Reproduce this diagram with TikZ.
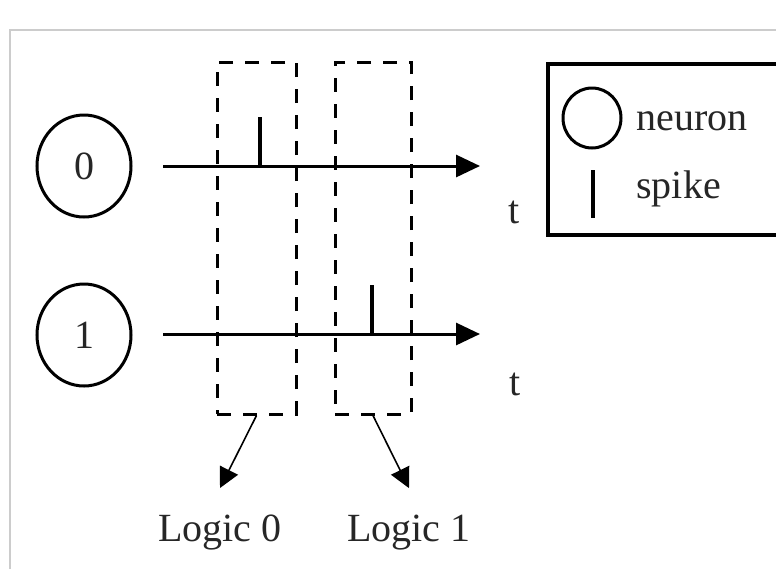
\documentclass[tikz,border=0pt]{standalone}
\usepackage{fontspec}
\setmainfont{Liberation Serif}
\usetikzlibrary{arrows.meta,shapes.geometric}
\tikzset{neuron/.style = {draw, line width=1.5pt, ellipse, minimum width=47pt, minimum height=51pt, inner sep=0pt},
         window/.style = {draw, line width=1.5pt, dash pattern=on 7pt off 6pt, rectangle, inner sep=0pt},
         axis/.style = {line width=1.5pt, -{Triangle[length=12pt,width=11pt]}},
         spikeline/.style = {line width=2pt},
         pointer/.style = {line width=0.8pt, -{Triangle[length=10pt,width=10pt]}},
         txt/.style = {font=\fontsize{20pt}{24pt}\selectfont, text=black!85, inner sep=0pt}}

\begin{document}
\begin{tikzpicture}[x=0.5pt,y=-0.5pt]
        \useasboundingbox (0,0) rectangle (776,569);
        \clip (0,0) rectangle (776,569);
        \draw[line width=1pt, black!20] (10,569) -- (10,30) -- (776,30);

        \node[neuron, txt] (n0) at (84,166) {0};
        \node[neuron, txt] (n1) at (84,335) {1};

        \coordinate (s0) at (163,166);
        \coordinate (e0) at (480,166);
        \coordinate (s1) at (163,334);
        \coordinate (e1) at (480,334);
        \draw[axis] (s0) -- (e0);
        \draw[axis] (s1) -- (e1);
        \draw[spikeline] (260,166) -- (260,117);
        \draw[spikeline] (372,334) -- (372,285);
        \node[txt] (t0) at (514,212) {t};
        \node[txt] (t1) at (515,384) {t};

        \node[window, minimum width=39.5pt, minimum height=176pt] (w0) at (256.5,238) {};
        \node[window, minimum width=38pt, minimum height=176pt] (w1) at (373,238) {};

        \node[txt, anchor=base] (l0) at (220,541) {Logic 0};
        \node[txt, anchor=base] (l1) at (409,541) {Logic 1};
        \draw[pointer] (w0.south) -- ([yshift=13pt]l0.north);
        \draw[pointer] (w1.south) -- ([yshift=13pt]l1.north);

        \node[draw, line width=2pt, rectangle, anchor=north west, minimum width=130pt, minimum height=85.5pt] (legend) at (546,62) {};
        \node[neuron, minimum width=29pt, minimum height=30pt] (lgn) at (592,118) {};
        \node[txt, anchor=base west] (lgntext) at (636,130) {neuron};
        \draw[spikeline] (593,170) -- (593,218);
        \node[txt, anchor=base west] (lgstext) at (636,198) {spike};
    \end{tikzpicture}
\end{document}
